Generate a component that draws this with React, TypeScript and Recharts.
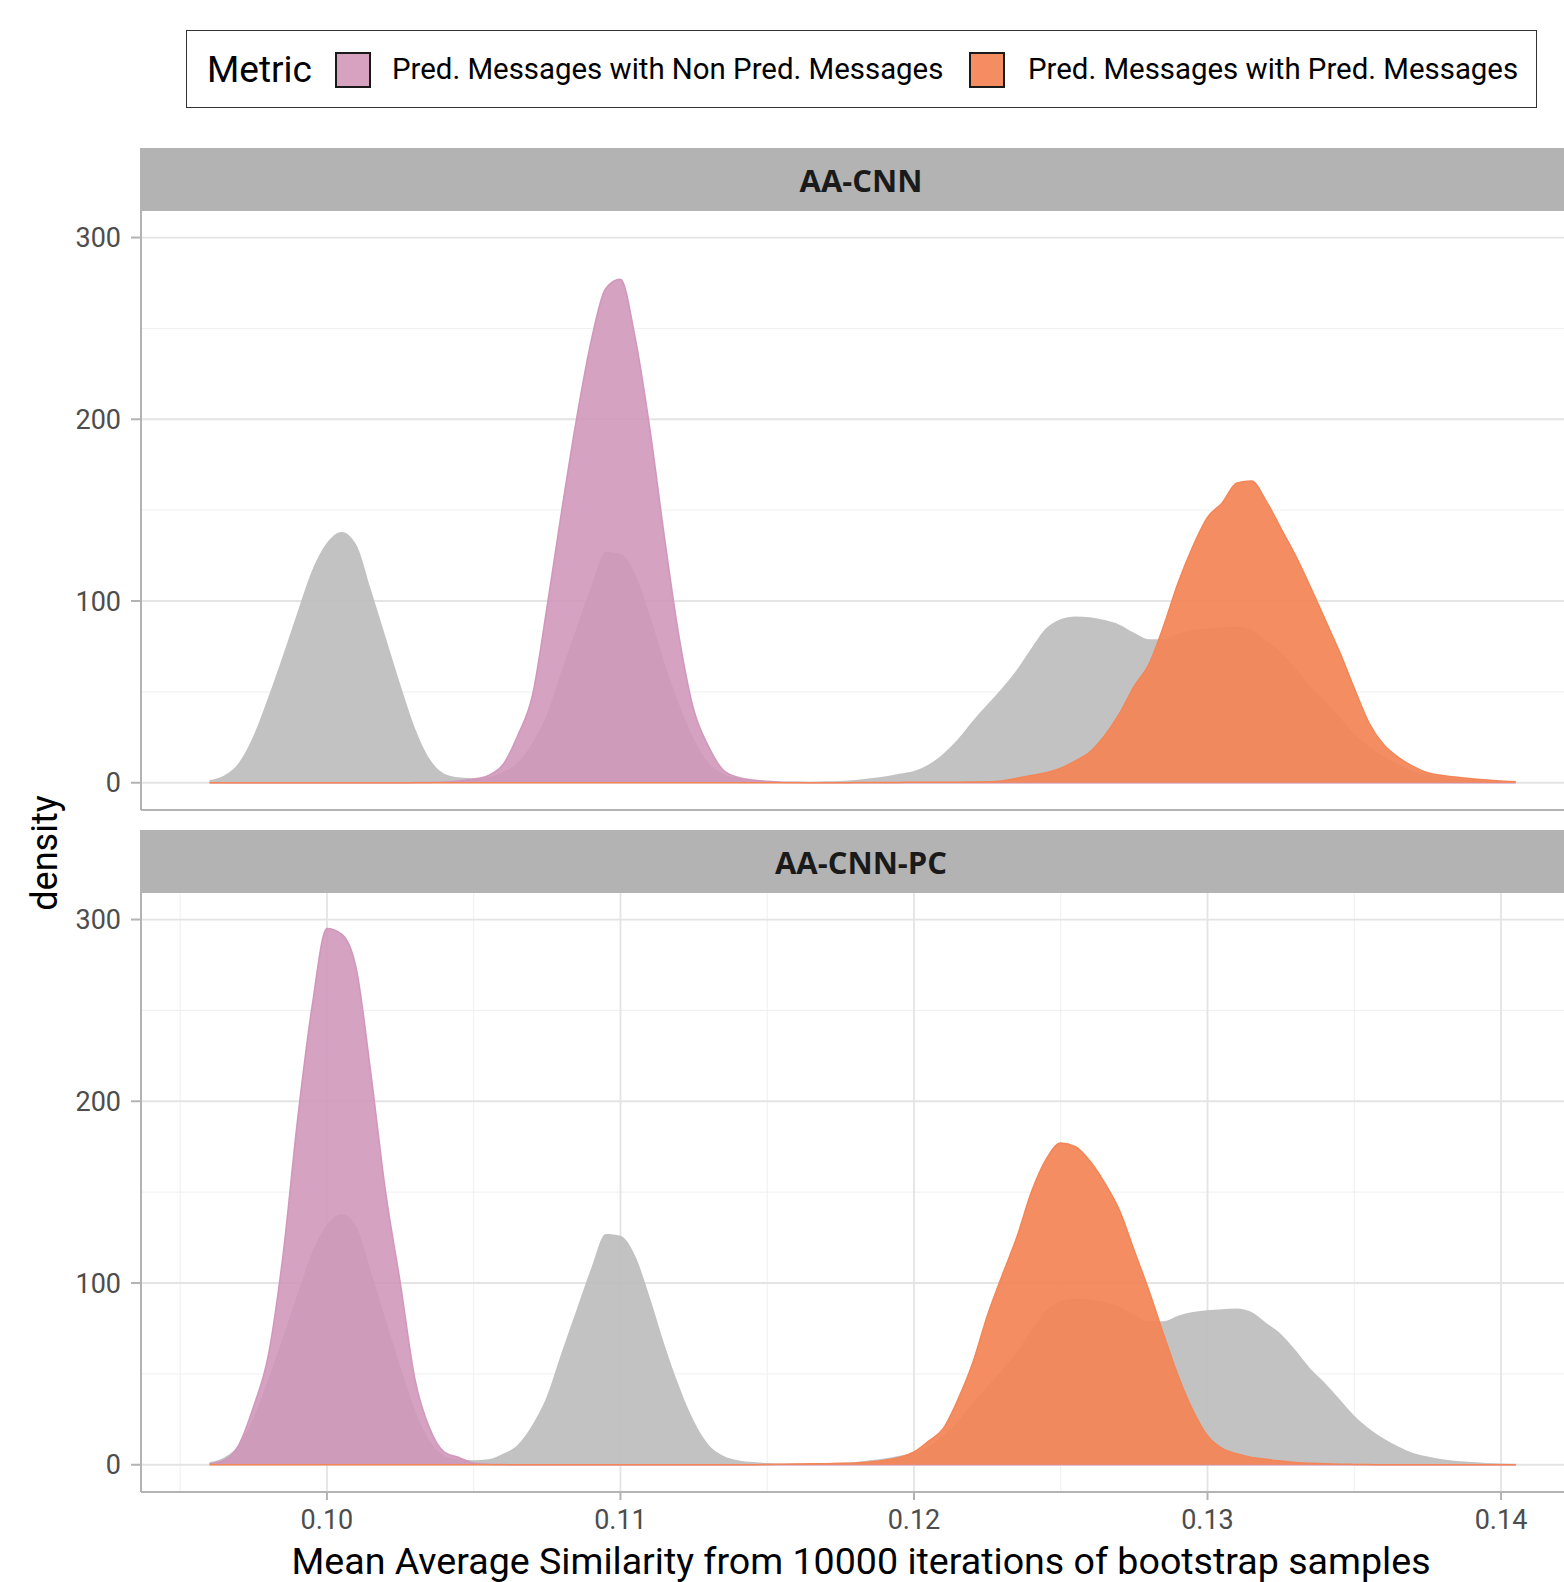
import { Area, CartesianGrid, ComposedChart, XAxis, YAxis } from "recharts";

// density grid (Mean Average Similarity)
const xs = [
    0.0960, 0.0965, 0.0970, 0.0975, 0.0980, 0.0985, 0.0990, 0.0995, 0.1000, 0.1005,
    0.1010, 0.1015, 0.1020, 0.1025, 0.1030, 0.1035, 0.1040, 0.1045, 0.1050, 0.1055,
    0.1060, 0.1065, 0.1070, 0.1075, 0.1080, 0.1085, 0.1090, 0.1095, 0.1100, 0.1105,
    0.1110, 0.1115, 0.1120, 0.1125, 0.1130, 0.1135, 0.1140, 0.1145, 0.1150, 0.1155,
    0.1160, 0.1165, 0.1170, 0.1175, 0.1180, 0.1185, 0.1190, 0.1195, 0.1200, 0.1205,
    0.1210, 0.1215, 0.1220, 0.1225, 0.1230, 0.1235, 0.1240, 0.1245, 0.1250, 0.1255,
    0.1260, 0.1265, 0.1270, 0.1275, 0.1280, 0.1285, 0.1290, 0.1295, 0.1300, 0.1305,
    0.1310, 0.1315, 0.1320, 0.1325, 0.1330, 0.1335, 0.1340, 0.1345, 0.1350, 0.1355,
    0.1360, 0.1365, 0.1370, 0.1375, 0.1380, 0.1385, 0.1390, 0.1395, 0.1400, 0.1405,
];

// AA-CNN, Pred. Messages with Non Pred. Messages
const cnnNonPred = [
    0, 0, 0, 0, 0, 0, 0, 0, 0, 0,
    0, 0, 0, 0, 0.1, 0.2, 0.4, 1, 2, 4,
    10, 26, 48, 97, 150, 200, 243, 272, 277, 245,
    195, 135, 80, 40, 20, 7, 3, 1.5, 0.8, 0.3,
    0.1, 0, 0, 0, 0, 0, 0, 0, 0, 0,
    0, 0, 0, 0, 0, 0, 0, 0, 0, 0,
    0, 0, 0, 0, 0, 0, 0, 0, 0, 0,
    0, 0, 0, 0, 0, 0, 0, 0, 0, 0,
    0, 0, 0, 0, 0, 0, 0, 0, 0, 0,
];

// AA-CNN, Pred. Messages with Pred. Messages
const cnnPred = [
    0, 0, 0, 0, 0, 0, 0, 0, 0, 0,
    0, 0, 0, 0, 0, 0, 0, 0, 0, 0,
    0, 0, 0, 0, 0, 0, 0, 0, 0, 0,
    0, 0, 0, 0, 0, 0, 0, 0, 0, 0,
    0, 0, 0, 0, 0.1, 0.1, 0.2, 0.2, 0.3, 0.3,
    0.3, 0.3, 0.4, 0.5, 1, 2.5, 4, 5.5, 8, 12,
    17, 26, 38, 53, 65, 86, 110, 130, 146, 154,
    165, 166, 155, 140, 125, 108, 90, 72, 52, 33,
    21, 14, 9, 5.5, 4, 3, 2.2, 1.5, 1, 0.5,
];

// AA-CNN-PC, Pred. Messages with Non Pred. Messages
const pcNonPred = [
    0.5, 2.5, 11, 32, 60, 115, 190, 253, 295, 292,
    273, 215, 150, 100, 47, 20, 7, 4, 0.8, 0.3,
    0.1, 0, 0, 0, 0, 0, 0, 0, 0, 0,
    0, 0, 0, 0, 0, 0, 0, 0, 0, 0,
    0, 0, 0, 0, 0, 0, 0, 0, 0, 0,
    0, 0, 0, 0, 0, 0, 0, 0, 0, 0,
    0, 0, 0, 0, 0, 0, 0, 0, 0, 0,
    0, 0, 0, 0, 0, 0, 0, 0, 0, 0,
    0, 0, 0, 0, 0, 0, 0, 0, 0, 0,
];

// AA-CNN-PC, Pred. Messages with Pred. Messages
const pcPred = [
    0, 0, 0, 0, 0, 0, 0, 0, 0, 0,
    0, 0, 0, 0, 0, 0, 0, 0, 0, 0,
    0, 0, 0, 0, 0, 0, 0, 0, 0, 0,
    0, 0, 0, 0, 0, 0, 0, 0, 0.2, 0.3,
    0.4, 0.5, 0.6, 0.8, 1, 1.5, 2.5, 4, 7, 13,
    20, 36, 56, 82, 104, 125, 150, 168, 177, 175,
    167, 155, 140, 118, 96, 72, 49, 30, 16, 9,
    6, 4, 3, 2, 1.2, 0.8, 0.5, 0.3, 0.2, 0.1,
    0, 0, 0, 0, 0, 0, 0, 0, 0, 0,
];

// grey background: both models pooled
const allNonPred = [
    1.5, 4, 11, 26, 47, 70, 94, 117, 132, 138,
    131, 106, 80, 54, 30, 13, 5, 3, 2.5, 3,
    6, 11, 22, 38, 62, 85, 108, 127, 126, 115,
    92, 66, 43, 24, 11, 5, 2.5, 1.5, 1, 0.6,
    0.5, 0.4, 0.3, 0.3, 0.2, 0.2, 0.1, 0.1, 0, 0,
    0, 0, 0, 0, 0, 0, 0, 0, 0, 0,
    0, 0, 0, 0, 0, 0, 0, 0, 0, 0,
    0, 0, 0, 0, 0, 0, 0, 0, 0, 0,
    0, 0, 0, 0, 0, 0, 0, 0, 0, 0,
];

const allPred = [
    0, 0, 0, 0, 0, 0, 0, 0, 0, 0,
    0, 0, 0, 0, 0, 0, 0, 0, 0, 0,
    0, 0, 0, 0, 0, 0, 0, 0, 0, 0,
    0, 0, 0, 0, 0, 0, 0, 0, 0.3, 0.4,
    0.5, 0.6, 0.8, 1, 1.5, 2.5, 3.5, 5, 6.5, 10,
    16, 24, 34, 43, 52, 62, 74, 85, 90, 91.5,
    91, 89.5, 87, 82.5, 79, 79, 82, 84, 85, 85.5,
    86, 84, 78, 72, 63, 53, 45, 36, 27, 20,
    14.5, 10, 6.5, 4.5, 3, 2, 1.5, 1, 0.7, 0.5,
];

const facets = ["AA-CNN", "AA-CNN-PC"];
const metricLabels = ["Pred. Messages with Non Pred. Messages", "Pred. Messages with Pred. Messages"];

const xMajor = [0.10, 0.11, 0.12, 0.13, 0.14];
const xMinor = [0.095, 0.105, 0.115, 0.125, 0.135];
const yMajor = [0, 100, 200, 300];
const yMinor = [50, 150, 250];

const X_MIN = 0.093665;
const X_MAX = 0.142725;
const Y_MIN = -15;
const Y_MAX = 314.6;

const rows = xs.map((x, i) => ({
    x,
    cnnNonPred: cnnNonPred[i],
    cnnPred: cnnPred[i],
    pcNonPred: pcNonPred[i],
    pcPred: pcPred[i],
    allNonPred: allNonPred[i],
    allPred: allPred[i],
}));

const PINK = "#d095b8";
const ORANGE = "#f38556";
const GREY = "#bdbdbd";
const AXIS = "#b3b3b3";
const FONT = "Roboto, sans-serif";

const tickStyle = { fill: "#4d4d4d", fontSize: 27, fontFamily: FONT };

const Panel = ({ nonPredKey, predKey, bottom }: { nonPredKey: string; predKey: string; bottom: boolean }) => (
    <ComposedChart
        width={1590}
        height={bottom ? 649 : 600}
        data={rows}
        margin={{ top: 0, right: 9, bottom: 0, left: 0 }}
    >
        <CartesianGrid horizontalValues={yMinor} verticalValues={xMinor} stroke="#efefef" strokeWidth={1} />
        <CartesianGrid horizontalValues={yMajor} verticalValues={xMajor} stroke="#e4e4e4" strokeWidth={1.8} />
        {bottom ? (
            <XAxis
                dataKey="x"
                type="number"
                domain={[X_MIN, X_MAX]}
                allowDataOverflow
                ticks={xMajor}
                tickFormatter={(v: number) => v.toFixed(2)}
                height={50}
                tickSize={8}
                tickMargin={10}
                tick={tickStyle}
                tickLine={{ stroke: AXIS, strokeWidth: 2 }}
                axisLine={{ stroke: AXIS, strokeWidth: 2 }}
            />
        ) : (
            <XAxis
                dataKey="x"
                type="number"
                domain={[X_MIN, X_MAX]}
                allowDataOverflow
                ticks={xMajor}
                height={1}
                tick={false}
                tickLine={false}
                axisLine={{ stroke: AXIS, strokeWidth: 2 }}
            />
        )}
        <YAxis
            type="number"
            domain={[Y_MIN, Y_MAX]}
            allowDataOverflow
            ticks={yMajor}
            width={141}
            tickSize={10}
            tickMargin={10}
            tick={tickStyle}
            tickLine={{ stroke: AXIS, strokeWidth: 2 }}
            axisLine={{ stroke: AXIS, strokeWidth: 2 }}
        />
        <Area type="monotone" dataKey="allNonPred" baseValue={0} fill={GREY} fillOpacity={0.92} stroke="none" dot={false} activeDot={false} isAnimationActive={false} />
        <Area type="monotone" dataKey="allPred" baseValue={0} fill={GREY} fillOpacity={0.92} stroke="none" dot={false} activeDot={false} isAnimationActive={false} />
        <Area type="monotone" dataKey={nonPredKey} baseValue={0} fill={PINK} fillOpacity={0.88} stroke={PINK} strokeOpacity={0.95} strokeWidth={1.5} dot={false} activeDot={false} isAnimationActive={false} />
        <Area type="monotone" dataKey={predKey} baseValue={0} fill={ORANGE} fillOpacity={0.93} stroke={ORANGE} strokeWidth={1.5} dot={false} activeDot={false} isAnimationActive={false} />
    </ComposedChart>
);

const Strip = ({ label, top }: { label: string; top: number }) => (
    <div
        style={{
            position: "absolute", left: 140, top, width: 1442, height: 63, background: "#b3b3b3",
            display: "flex", alignItems: "center", justifyContent: "center",
            fontFamily: "'Open Sans', sans-serif", fontWeight: 700, fontSize: 31, color: "#1a1a1a",
        }}
    >
        {label}
    </div>
);

const LegendKey = ({ left, color }: { left: number; color: string }) => (
    <div
        style={{
            position: "absolute", left, top: 21, width: 36, height: 36, boxSizing: "border-box",
            background: color, border: "2px solid #1a1a1a",
        }}
    />
);

const LegendText = ({ left, size, children }: { left: number; size: number; children: string }) => (
    <div
        style={{
            position: "absolute", left, top: 0, height: "100%", display: "flex", alignItems: "center",
            fontSize: size, fontFamily: FONT, color: "#000", whiteSpace: "nowrap",
        }}
    >
        {children}
    </div>
);

export default function App() {
    return (
        <div style={{ position: "absolute", left: 0, top: 0, width: 1564, height: 1582, overflow: "hidden", background: "#fff" }}>
            <div
                style={{
                    position: "absolute", left: 186, top: 30, width: 1351, height: 78, boxSizing: "border-box",
                    border: "1.5px solid #333",
                }}
            >
                <LegendText left={20} size={37}>Metric</LegendText>
                <LegendKey left={148} color="#d6a2c0" />
                <LegendText left={205} size={29.4}>{metricLabels[0]}</LegendText>
                <LegendKey left={782} color="#f48e62" />
                <LegendText left={841} size={29.4}>{metricLabels[1]}</LegendText>
            </div>

            <Strip label={facets[0]} top={148} />
            <div style={{ position: "absolute", left: 0, top: 211 }}>
                <Panel nonPredKey="cnnNonPred" predKey="cnnPred" bottom={false} />
            </div>

            <Strip label={facets[1]} top={830} />
            <div style={{ position: "absolute", left: 0, top: 893 }}>
                <Panel nonPredKey="pcNonPred" predKey="pcPred" bottom={true} />
            </div>

            <div
                style={{
                    position: "absolute", left: 45, top: 853, transform: "translate(-50%, -50%) rotate(-90deg)",
                    fontSize: 36, fontFamily: FONT, color: "#000", whiteSpace: "nowrap", lineHeight: 1,
                }}
            >
                density
            </div>
            <div
                style={{
                    position: "absolute", left: 0, top: 1543, width: 1722, textAlign: "center",
                    fontSize: 37.6, fontFamily: FONT, color: "#000", whiteSpace: "nowrap", lineHeight: 1,
                }}
            >
                Mean Average Similarity from 10000 iterations of bootstrap samples
            </div>
        </div>
    );
}
